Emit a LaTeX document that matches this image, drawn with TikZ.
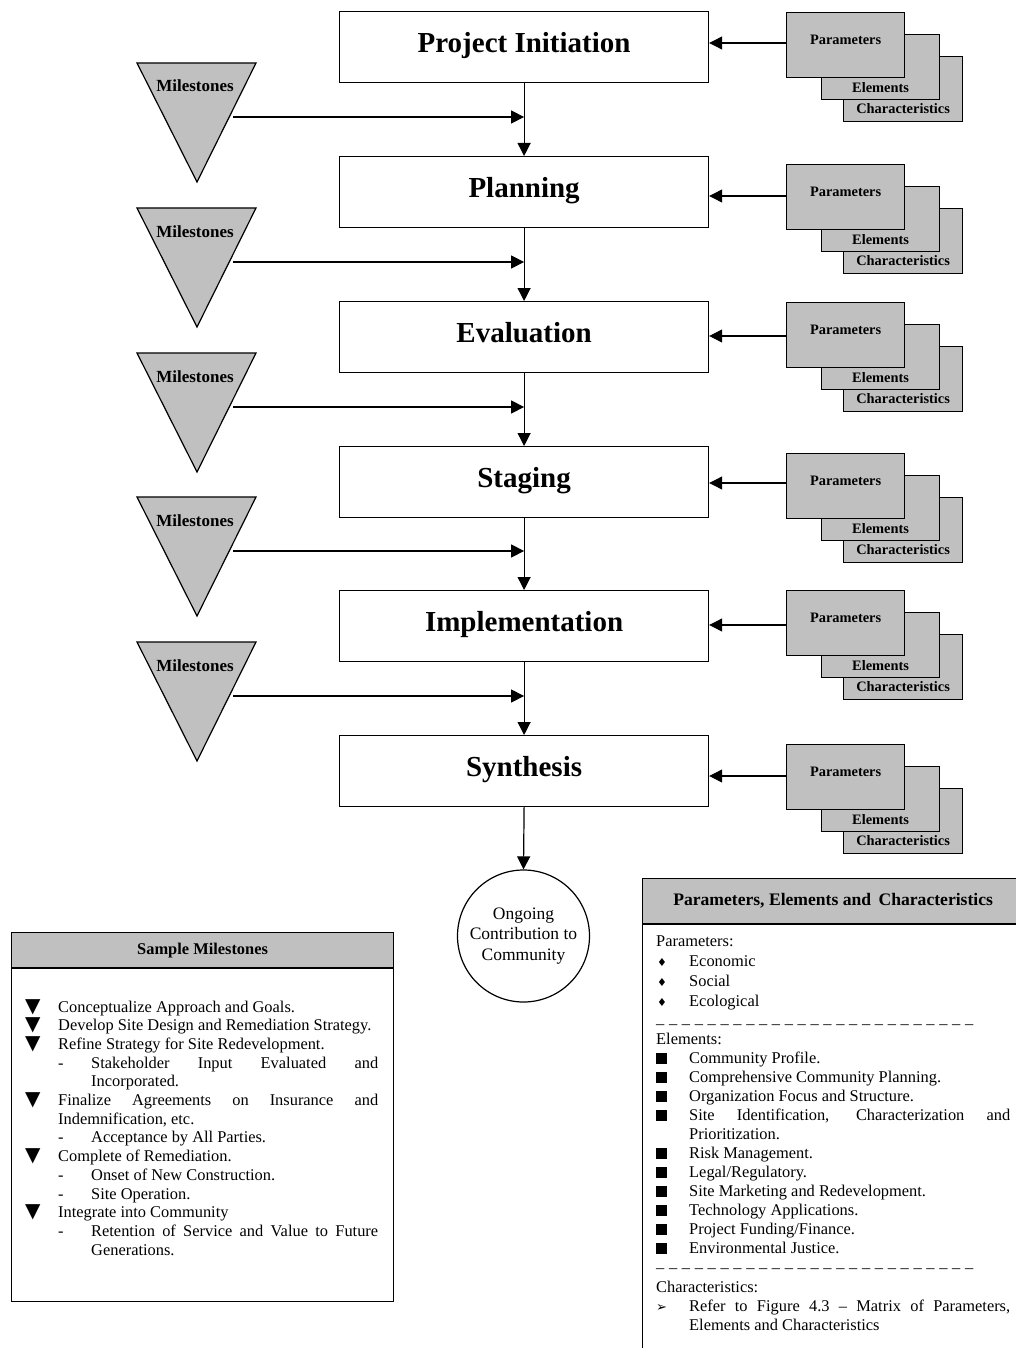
\documentclass[tikz,border=0pt]{standalone}
\usepackage{fontspec}
\setmainfont{Liberation Serif}
\newfontfamily\symfont{DejaVu Sans}
\usetikzlibrary{arrows.meta,positioning}
\definecolor{boxgray}{RGB}{192,192,192}
\tikzset{>={Triangle[length=13pt,width=13pt]}}
\tikzset{
  link/.style={->, line width=1.2pt},
  stage/.style={draw, line width=1.2pt, inner sep=0pt, anchor=north west, minimum width=369pt,
    text height=41pt, text depth=30pt, font=\fontsize{29}{34}\selectfont\bfseries},
  card/.style={draw, line width=1.2pt, fill=boxgray, inner sep=0pt, anchor=north west,
    minimum width=118pt, font=\fontsize{14.4}{17}\selectfont\bfseries},
  mile/.style={draw, line width=1.2pt, fill=boxgray},
  miletext/.style={inner sep=0pt, anchor=base, font=\fontsize{17}{20}\selectfont\bfseries},
  panelhead/.style={draw, line width=1.2pt, fill=boxgray, inner sep=0pt, anchor=north west},
  panelbody/.style={draw, line width=1.2pt, inner sep=0pt, anchor=north west},
  listtext/.style={inner sep=0pt, anchor=base west, align=left, font=\fontsize{16.4}{18.7}\selectfont}
}
% the font's own word spaces (align= fixes them otherwise)
\newcommand\wordspaces{\spaceskip=0pt\xspaceskip=0pt\relax}
% bullets for the two panels
\newcommand\tribul{\makebox[33pt][l]{\symfont\fontsize{20}{20}\selectfont ▼}}
\newcommand\subbul{\hspace*{33pt}\makebox[33pt][l]{-}}
\newcommand\diabul{\makebox[33pt][l]{\hspace{1pt}\symfont\fontsize{11}{11}\selectfont ♦}}
\newcommand\sqbul{\makebox[33pt][l]{\rule[-1pt]{11pt}{11.5pt}}}
\newcommand\arrbul{\makebox[33pt][l]{\symfont\fontsize{13}{13}\selectfont ➢}}
\newcommand\dashrow{\makebox[317pt][s]{\_ \_ \_ \_ \_ \_ \_ \_ \_ \_ \_ \_ \_ \_ \_ \_ \_ \_ \_ \_ \_ \_ \_ \_ \_}}

\begin{document}
\begin{tikzpicture}[x=1pt,y=-1pt]
\useasboundingbox (0,0) rectangle (1016,1348);
\clip (0,0) rectangle (1016,1348);

% stages with their parameter cards
\foreach \i/\name/\top/\ptop/\ay in {1/Project Initiation/11/12/43, 2/Planning/156/164/196,
    3/Evaluation/301/302/336, 4/Staging/446/453/483, 5/Implementation/590/590/625,
    6/Synthesis/735/744/776}{
  \node[stage] (s\i) at (339,\top) {\name};
  \node[card, minimum width=119pt, text height=57pt, text depth=8pt] (c\i) at (843,\ptop+44) {Characteristics};
  \node[card, text height=58pt, text depth=7pt] (e\i) at (821,\ptop+22) {Elements};
  \node[card, text height=32pt, text depth=33pt] (p\i) at (786,\ptop) {Parameters};
  \coordinate (pin\i) at (786,\ay);
  \draw[link] (pin\i) -- (s\i.east |- pin\i);
}
\foreach \i/\j in {1/2,2/3,3/4,4/5,5/6}
  \draw[link] (s\i.south) -- (s\j.north);

% milestones
\foreach \i/\top in {1/63,2/208,3/353,4/497,5/642}{
  \filldraw[mile] (137,\top) -- (256,\top) -- (197,\top+119) -- cycle;
  \node[miletext] (mt\i) at (195,\top+29) {Milestones};
  \coordinate (mo\i) at (233,\top+54);
  \draw[link] (mo\i) -- (s\i.south |- mo\i);
}

\node[circle, draw, line width=1.2pt, minimum size=132pt, inner sep=0pt, align=center,
  font=\fontsize{17.5}{20.5}\selectfont] (goal) at (523.5,936) {\wordspaces Ongoing\\Contribution to\\Community};
\draw[link] (s6.south) -- (goal.north);

% sample milestones panel
\node[panelhead, minimum width=382pt, minimum height=35pt, font=\fontsize{16.4}{19}\selectfont\bfseries]
  (smhead) at (11,932) {Sample Milestones};
\node[panelbody, minimum width=382pt, minimum height=333pt, below=0pt of smhead] (smbody) {};
\node[listtext, text width=353pt] (smlist) at (25,1012) {\wordspaces
\tribul Conceptualize Approach and Goals.\\
\tribul Develop Site Design and Remediation Strategy.\\
\tribul Refine Strategy for Site Redevelopment.\\
\subbul\makebox[287pt][s]{Stakeholder Input Evaluated and}\\
\hspace*{66pt}Incorporated.\\
\tribul\makebox[320pt][s]{Finalize Agreements on Insurance and}\\
\hspace*{33pt}Indemnification, etc.\\
\subbul Acceptance by All Parties.\\
\tribul Complete of Remediation.\\
\subbul Onset of New Construction.\\
\subbul Site Operation.\\
\tribul Integrate into Community\\
\subbul\makebox[287pt][s]{Retention of Service and Value to Future}\\
\hspace*{66pt}Generations.};

% parameters, elements and characteristics panel
\node[panelhead, minimum width=381pt, minimum height=45pt, font=\fontsize{17.6}{20}\selectfont\bfseries]
  (pehead) at (642,878) {Parameters, Elements and\hspace{3pt} Characteristics};
\node[panelbody, minimum width=381pt, minimum height=500pt, below=0pt of pehead] (pebody) {};
\node[listtext, text width=360pt, font=\fontsize{16.4}{19}\selectfont] (pelist) at (656,946) {\wordspaces
Parameters:\\[1pt]
\diabul Economic\\[1pt]
\diabul Social\\[1pt]
\diabul Ecological\\[-2pt]
\dashrow\\[2pt]
Elements:\\
\sqbul Community Profile.\\
\sqbul Comprehensive Community Planning.\\
\sqbul Organization Focus and Structure.\\
\sqbul\makebox[321pt][s]{Site Identification, Characterization and}\\
\hspace*{33pt}Prioritization.\\
\sqbul Risk Management.\\
\sqbul Legal/Regulatory.\\
\sqbul Site Marketing and Redevelopment.\\
\sqbul Technology Applications.\\
\sqbul Project Funding/Finance.\\
\sqbul Environmental Justice.\\[-5pt]
\dashrow\\[6pt]
Characteristics:\\
\arrbul\makebox[321pt][s]{Refer to Figure 4.3 -- Matrix of Parameters,}\\
\hspace*{33pt}Elements and Characteristics};
\end{tikzpicture}
\end{document}
